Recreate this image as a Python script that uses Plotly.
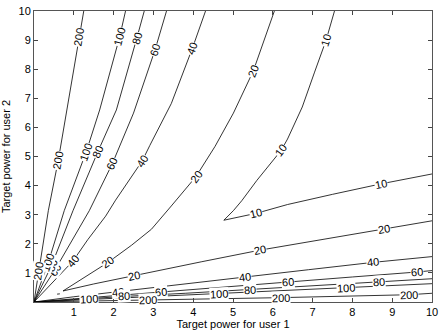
import math
import plotly.graph_objects as go

# contour levels and the traced points of each level
levels = [10, 20, 40, 60, 80, 100, 200]

c10_x = [10, 8.72, 7.5, 6.37, 5.59, 4.77, 5.01, 5.22, 5.6, 6.21, 6.37, 6.74, 7.05, 7.34, 7.55]
c10_y = [4.4, 4.06, 3.7, 3.35, 3.05, 2.81, 3.14, 3.48, 4.18, 5.21, 5.6, 6.7, 7.9, 9.0, 10]

c20_x = [10, 8.8, 7.2, 5.67, 4.2, 2.5, 1.5, 0.73, 1.2, 1.86, 2.45, 2.95, 3.45, 4.07, 4.55, 5.01, 5.51, 6.04]
c20_y = [2.79, 2.51, 2.15, 1.78, 1.38, 0.91, 0.62, 0.38, 0.8, 1.36, 1.95, 2.5, 3.3, 4.31, 5.35, 6.49, 7.94, 10]

c20b_x = [0.58, 0.65]
c20b_y = [0.27, 0.28]

c40_x = [10, 8.51, 6.9, 5.3, 4.0, 2.67, 2.11, 1.0, 0, 0.45, 0.98, 1.35, 1.8, 2.05, 2.72, 2.91, 3.33, 3.45, 3.98, 4.31]
c40_y = [1.56, 1.36, 1.11, 0.86, 0.66, 0.45, 0.36, 0.18, 0, 0.65, 1.41, 2.14, 2.95, 3.5, 4.85, 5.38, 6.49, 6.82, 8.72, 10]

c60_x = [10, 9.62, 8.0, 6.37, 4.8, 3.2, 1.6, 0, 0.53, 1.0, 1.39, 1.97, 2.5, 3.04, 3.33]
c60_y = [1.08, 1.03, 0.86, 0.69, 0.52, 0.35, 0.18, 0, 1.11, 2.2, 3.14, 4.76, 6.49, 8.66, 10]

c80_x = [10, 8.67, 7.0, 5.42, 3.8, 2.25, 1.0, 0, 0.44, 0.98, 1.6, 2.07, 2.58, 2.77]
c80_y = [0.8, 0.69, 0.55, 0.42, 0.3, 0.19, 0.08, 0, 1.25, 3.14, 5.15, 6.6, 9.05, 10]

c100_x = [10, 7.85, 6.2, 4.64, 3.0, 1.39, 0, 0.36, 0.76, 1.31, 1.65, 2.15, 2.3]
c100_y = [0.63, 0.49, 0.39, 0.29, 0.19, 0.09, 0, 1.36, 3.14, 5.15, 6.6, 9.1, 10]

c200_x = [10, 9.42, 6.21, 2.87, 0, 0.12, 0.36, 0.61, 0.81, 1.13, 1.25]
c200_y = [0.3, 0.25, 0.15, 0.07, 0, 1.05, 3.14, 4.87, 6.49, 9.1, 10]

# inline label positions on each level
lab10_x = [8.72, 5.59, 6.21, 7.34]
lab10_y = [4.06, 3.05, 5.21, 9.0]
lab20_x = [8.8, 5.67, 2.5, 1.86, 4.07, 5.51]
lab20_y = [2.51, 1.78, 0.91, 1.36, 4.31, 7.94]
lab40_x = [8.51, 5.3, 2.11, 0.98, 2.72, 3.98]
lab40_y = [1.36, 0.86, 0.36, 1.41, 4.85, 8.72]
lab60_x = [9.62, 6.37, 3.2, 0.53, 1.97, 3.04]
lab60_y = [1.03, 0.69, 0.35, 1.11, 4.76, 8.66]
lab80_x = [8.67, 5.42, 2.25, 0.44, 1.6, 2.58]
lab80_y = [0.69, 0.42, 0.19, 1.25, 5.15, 9.05]
lab100_x = [7.85, 4.64, 1.39, 0.36, 1.31, 2.15]
lab100_y = [0.49, 0.29, 0.09, 1.36, 5.15, 9.1]
lab200_x = [9.42, 6.21, 2.87, 0.12, 0.61, 1.13]
lab200_y = [0.25, 0.15, 0.07, 1.05, 4.87, 9.1]

tick_vals = [1, 2, 3, 4, 5, 6, 7, 8, 9, 10]

lines = {10: [(c10_x, c10_y)], 20: [(c20_x, c20_y), (c20b_x, c20b_y)],
         40: [(c40_x, c40_y)], 60: [(c60_x, c60_y)], 80: [(c80_x, c80_y)],
         100: [(c100_x, c100_y)], 200: [(c200_x, c200_y)]}
labels = {10: (lab10_x, lab10_y), 20: (lab20_x, lab20_y), 40: (lab40_x, lab40_y),
          60: (lab60_x, lab60_y), 80: (lab80_x, lab80_y), 100: (lab100_x, lab100_y),
          200: (lab200_x, lab200_y)}

W, H = 443, 333
ML, MR, MT, MB = 32, 6, 5, 29
sx = (W - ML - MR) / 10.0
sy = (H - MT - MB) / 10.0

fig = go.Figure()
for lev in levels:
    for xs, ys in lines[lev]:
        fig.add_trace(go.Scatter(x=xs, y=ys, mode='lines',
                                 line=dict(color='black', width=0.8),
                                 hoverinfo='skip', showlegend=False))


def label_angle(xs, ys, x, y):
    # direction of the traced line near the label, in screen pixels
    i = min(range(len(xs)), key=lambda k: (xs[k] - x) ** 2 + (ys[k] - y) ** 2)
    a = max(i - 1, 0)
    b = min(i + 1, len(xs) - 1)
    dx = (xs[b] - xs[a]) * sx
    dy = -(ys[b] - ys[a]) * sy
    ang = math.degrees(math.atan2(dy, dx))
    if ang > 90:
        ang -= 180
    if ang < -90:
        ang += 180
    return ang


for lev in levels:
    xs, ys = lines[lev][0]
    for x, y in zip(*labels[lev]):
        fig.add_annotation(x=x, y=y, text=str(lev), showarrow=False,
                           textangle=label_angle(xs, ys, x, y),
                           bgcolor='white', borderpad=0,
                           font=dict(family='Liberation Sans', size=11, color='black'))

axis_style = dict(range=[0, 10], tickvals=tick_vals, ticks='inside',
                  ticklen=4, tickcolor='#444', showline=True, linecolor='#555',
                  linewidth=1, mirror='ticks', showgrid=False, zeroline=False,
                  ticklabeloverflow='allow',
                  tickfont=dict(family='Liberation Sans', size=11, color='black'))

fig.update_layout(
    width=W, height=H,
    margin=dict(l=ML, r=MR, t=MT, b=MB),
    paper_bgcolor='white', plot_bgcolor='white',
    xaxis=dict(axis_style, title=dict(text='Target power for user 1', standoff=2,
                                      font=dict(family='Liberation Sans', size=11, color='black'))),
    yaxis=dict(axis_style, title=dict(text='Target power for user 2', standoff=6,
                                      font=dict(family='Liberation Sans', size=11, color='black'))),
)

fig.write_html("out.html", config={'displayModeBar': False},
               post_script="document.body.style.margin='0';")
